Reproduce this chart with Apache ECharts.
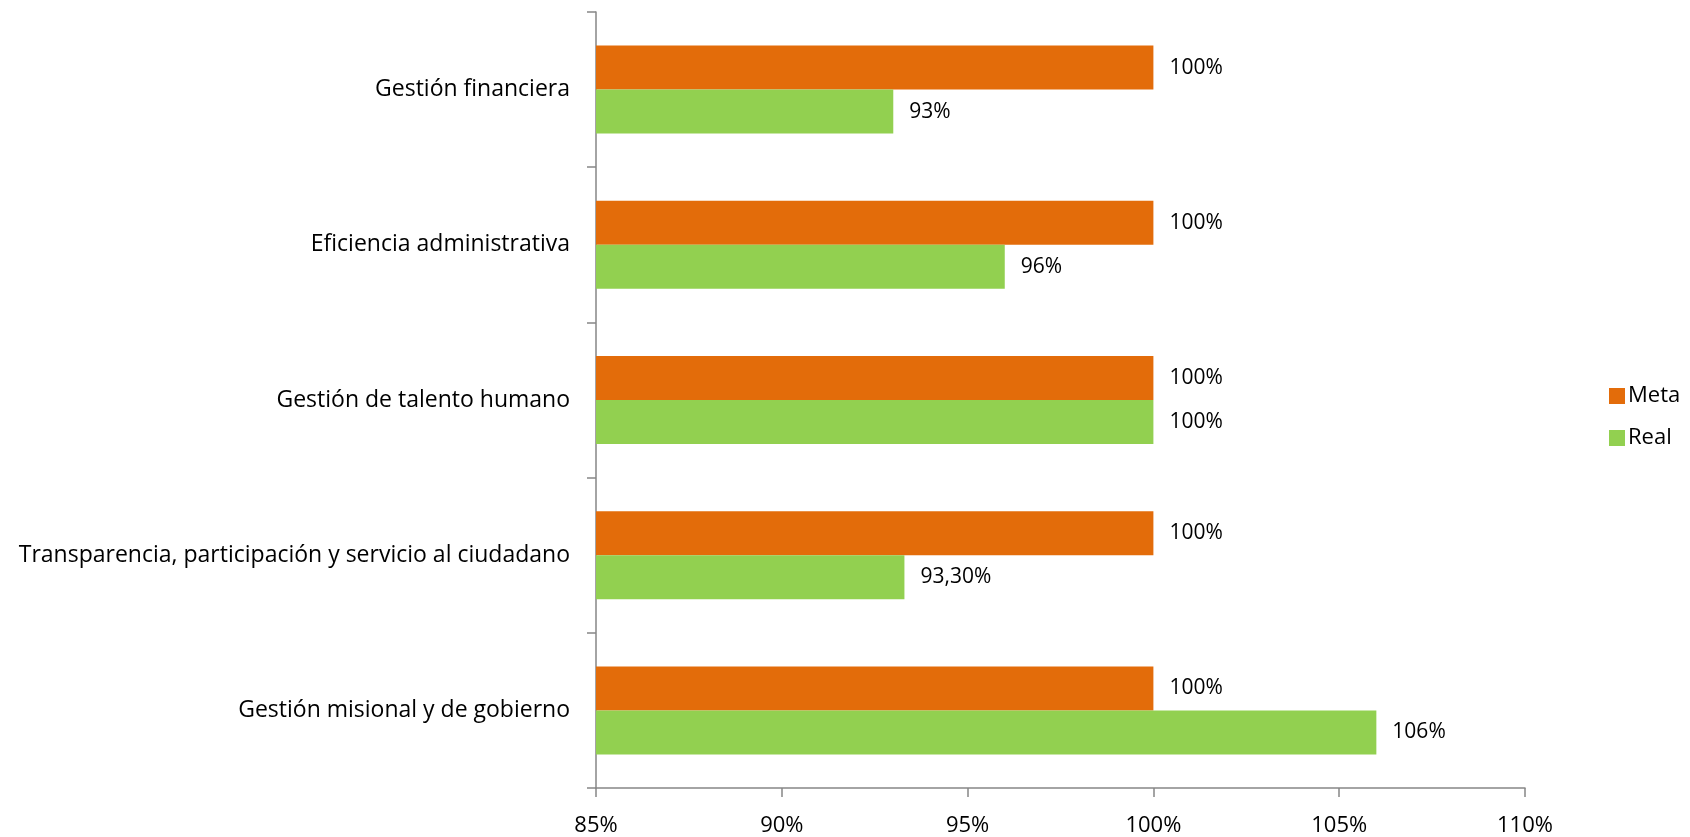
<!DOCTYPE html>
<html><head><meta charset="utf-8">
<script src="https://cdn.jsdelivr.net/npm/echarts@6/dist/echarts.min.js"></script>
<style>html,body{margin:0;padding:0;background:#fff}#c{width:1690px;height:837px}</style>
</head><body><div id="c"></div>
<script>
const categories = ["Gestión financiera","Eficiencia administrativa","Gestión de talento humano","Transparencia, participación y servicio al ciudadano","Gestión misional y de gobierno"];
const metaValues = [100,100,100,100,100];
const realValues = [93,96,100,93.3,106];
const metaLabels = ["100%","100%","100%","100%","100%"];
const realLabels = ["93%","96%","100%","93,30%","106%"];
const xTicks = {min:85,max:110,interval:5};

const FONT = "Open Sans";
const chart = echarts.init(document.getElementById('c'));
chart.setOption({
  animation:false,
  textStyle:{fontFamily:FONT},
  grid:{left:596,right:165,top:12,bottom:47,containLabel:false},
  legend:{
    orient:'vertical', left:1604, top:380, itemWidth:16, itemHeight:16, itemGap:20,
    icon:'rect',
    textStyle:{fontFamily:FONT,fontSize:22,color:'#000',padding:[0,0,0,-2]},
    data:['Meta','Real']
  },
  xAxis:{
    type:'value', min:xTicks.min, max:xTicks.max, interval:xTicks.interval,
    axisLine:{show:true,lineStyle:{color:'#868686',width:1.5}},
    axisTick:{show:true,length:9,lineStyle:{color:'#868686',width:1.5}},
    splitLine:{show:false},
    axisLabel:{formatter:'{value}%',fontFamily:FONT,fontSize:22,color:'#000',margin:27}
  },
  yAxis:{
    type:'category', data:categories, inverse:true,
    axisLine:{show:true,lineStyle:{color:'#868686',width:1.5}},
    axisTick:{show:true,length:9,alignWithLabel:false,lineStyle:{color:'#868686',width:1.5}},
    axisLabel:{fontFamily:FONT,fontSize:23,color:'#000',margin:26}
  },
  series:[
    {name:'Meta',type:'bar',data:metaValues,barWidth:44,barGap:'0%',
     itemStyle:{color:'#E36C0A'},
     label:{show:true,position:'right',distance:16,fontFamily:FONT,fontSize:21,color:'#000',
       formatter:p=>metaLabels[p.dataIndex]}},
    {name:'Real',type:'bar',data:realValues,barWidth:44,barGap:'0%',
     itemStyle:{color:'#92D050'},
     label:{show:true,position:'right',distance:16,fontFamily:FONT,fontSize:21,color:'#000',
       formatter:p=>realLabels[p.dataIndex]}}
  ]
});
</script></body></html>
